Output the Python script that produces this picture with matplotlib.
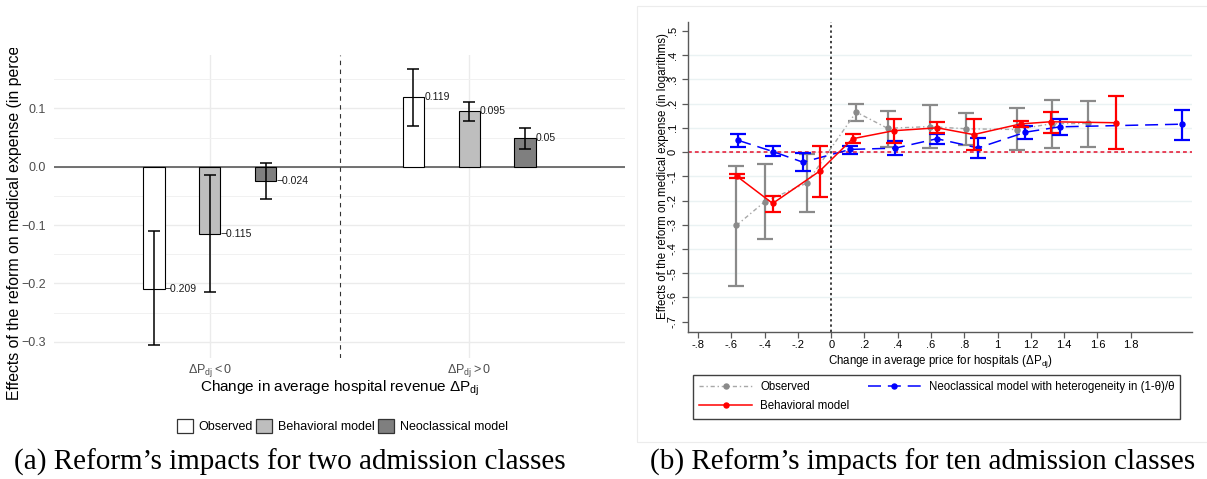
import matplotlib
matplotlib.use('Agg')
import matplotlib.pyplot as plt
import numpy as np
from matplotlib.patches import Patch, Rectangle
from matplotlib.lines import Line2D
from matplotlib.transforms import Bbox, TransformedBbox

plt.rcParams['font.family'] = ['Liberation Sans', 'DejaVu Sans']
plt.rcParams['mathtext.fontset'] = 'custom'
plt.rcParams['mathtext.rm'] = 'Liberation Sans'
plt.rcParams['mathtext.it'] = 'Liberation Sans:italic'
plt.rcParams['mathtext.bf'] = 'Liberation Sans:bold'

# ---- panel (a): two admission classes ----
class_labels = [r'$\Delta\mathrm{P}_{\mathrm{dj}} < 0$', r'$\Delta\mathrm{P}_{\mathrm{dj}} > 0$']
model_names = ['Observed', 'Behavioral model', 'Neoclassical model']
obs_effect = [-0.209, 0.119]
beh_effect = [-0.115, 0.095]
neo_effect = [-0.024, 0.05]
obs_ci_low = [-0.305, 0.069]
obs_ci_high = [-0.111, 0.167]
beh_ci_low = [-0.214, 0.078]
beh_ci_high = [-0.014, 0.111]
neo_ci_low = [-0.055, 0.031]
neo_ci_high = [0.007, 0.067]

# ---- panel (b): ten admission classes ----
obs_x = [-0.57, -0.40, -0.147, 0.15, 0.339, 0.591, 0.812, 1.115, 1.325, 1.544]
obs_y = [-0.303, -0.205, -0.128, 0.165, 0.098, 0.105, 0.096, 0.093, 0.117, 0.118]
obs_lo = [-0.552, -0.36, -0.246, 0.13, 0.022, 0.017, 0.03, 0.008, 0.016, 0.02]
obs_hi = [-0.056, -0.05, -0.006, 0.2, 0.171, 0.193, 0.16, 0.18, 0.215, 0.212]

beh_x = [-0.569, -0.352, -0.07, 0.129, 0.375, 0.638, 0.856, 1.138, 1.319, 1.71]
beh_y = [-0.099, -0.212, -0.079, 0.055, 0.088, 0.1, 0.072, 0.116, 0.125, 0.121]
beh_lo = [-0.108, -0.246, -0.186, 0.036, 0.036, 0.079, 0.009, 0.104, 0.08, 0.013]
beh_hi = [-0.092, -0.183, 0.024, 0.074, 0.138, 0.122, 0.136, 0.129, 0.167, 0.232]

neo_x = [-0.558, -0.35, -0.17, 0.115, 0.385, 0.635, 0.883, 1.168, 1.373, 2.106]
neo_y = [0.048, 0.002, -0.042, 0.011, 0.016, 0.055, 0.017, 0.082, 0.104, 0.115]
neo_lo = [0.022, -0.018, -0.08, -0.009, -0.013, 0.034, -0.023, 0.055, 0.071, 0.051]
neo_hi = [0.073, 0.023, -0.002, 0.023, 0.046, 0.076, 0.056, 0.109, 0.136, 0.175]

W, H = 1207, 479
fig = plt.figure(figsize=(W / 100, H / 100), dpi=100)
fig.patch.set_facecolor('white')


def fx(px):
    return px / W


def fy(py):
    return 1 - py / H


# ===================== left: bar chart =====================
axL = fig.add_axes([fx(54), fy(358), fx(571), 303 / H])
xpos = np.arange(1, 3)
offsets = [-0.215, 0.0, 0.215]
bar_w = 0.083
bar_colors = ['white', '#bebebe', '#7f7f7f']
effects = [obs_effect, beh_effect, neo_effect]
ci_lows = [obs_ci_low, beh_ci_low, neo_ci_low]
ci_highs = [obs_ci_high, beh_ci_high, neo_ci_high]

for off, col, vals, lo, hi in zip(offsets, bar_colors, effects, ci_lows, ci_highs):
    vals = np.array(vals)
    xs = xpos + off
    axL.bar(xs, vals, bar_w, color=col, edgecolor='black', linewidth=0.8, zorder=3)
    axL.errorbar(xs, vals, yerr=[vals - np.array(lo), np.array(hi) - vals], fmt='none',
                 ecolor='black', elinewidth=1.1, capsize=4.3, capthick=1.1, zorder=4)
    for x, v in zip(xs, vals):
        axL.text(x + bar_w / 2, v, f'{v:g}'.replace('-', '\u2212'), ha='left', va='center',
                 fontsize=7.5, color='#1a1a1a', zorder=5)

axL.set_xlim(0.4, 2.6)
axL.set_ylim(-0.328, 0.1915)
axL.set_yticks([-0.3, -0.2, -0.1, 0.0, 0.1])
axL.set_yticklabels(['\u22120.3', '\u22120.2', '\u22120.1', '0.0', '0.1'])
axL.set_yticks([-0.25, -0.15, -0.05, 0.05, 0.15], minor=True)
axL.set_xticks(xpos)
axL.set_xticklabels(class_labels)
axL.grid(which='major', color='#ebebeb', linewidth=1.0)
axL.grid(which='minor', axis='y', color='#f1f1f1', linewidth=0.7)
axL.set_axisbelow(True)
for s in axL.spines.values():
    s.set_visible(False)
axL.tick_params(which='both', length=0, labelsize=9, labelcolor='#4d4d4d')
axL.tick_params(axis='y', pad=6)
axL.tick_params(axis='x', pad=3)
axL.axhline(0, color='#4d4d4d', linewidth=1.1, zorder=2)
axL.axvline(1.5, color='#333333', linestyle=(0, (4, 4)), linewidth=0.8, zorder=2)

# y label runs past the top of the panel and is cut there
ylab = fig.text(fx(15), fy(400), 'Effects of the reform on medical expense (in percent)',
                rotation=90, ha='center', va='bottom', fontsize=11.4)
ylab.set_clip_box(TransformedBbox(Bbox.from_extents(0, 0, fx(630), fy(48)), fig.transFigure))
ylab.set_clip_on(True)
fig.text(fx(340), fy(388), r'Change in average hospital revenue $\Delta\mathrm{P}_{\mathrm{dj}}$',
         ha='center', va='center', fontsize=11)

bar_handles = [Patch(facecolor=c, edgecolor='#333333', linewidth=0.9) for c in bar_colors]
fig.legend(bar_handles, model_names, loc='center', bbox_to_anchor=(fx(342), fy(426)),
           ncol=3, frameon=False, fontsize=9, handlelength=1.3, handleheight=1.35,
           handletextpad=0.45, columnspacing=0.25, borderaxespad=0)

# ===================== right: line chart =====================
fig.add_artist(Rectangle((fx(637), fy(442)), fx(600), (442 - 6) / H, transform=fig.transFigure,
                         fill=False, edgecolor='#ececec', linewidth=0.8))

axR = fig.add_axes([fx(688), fy(331.7), fx(503.5), 310 / H])
axR.set_xlim(-0.861, 2.166)
axR.set_ylim(-0.7415, 0.538)

for g in np.arange(-6, 5) / 10:
    axR.axhline(g, color='#eaf2f3', linewidth=1.0, zorder=0)

axR.axvline(0, color='#404040', linestyle=(0, (1.2, 1.5)), linewidth=1.4, zorder=1)
axR.axhline(0, color='#e4102c', linestyle=(0, (2.5, 2)), linewidth=1.1, zorder=1)


def draw_series(ax, x, y, lo, hi, line_color, err_color, ls, lw, z):
    x, y, lo, hi = map(np.array, (x, y, lo, hi))
    ax.errorbar(x, y, yerr=[y - lo, hi - y], fmt='none', ecolor=err_color,
                elinewidth=1.6, capsize=5.5, capthick=1.6, zorder=z)
    line, = ax.plot(x, y, color=line_color, linestyle=ls, linewidth=lw, marker='o',
                    markersize=3.6, markerfacecolor=err_color, markeredgecolor=err_color, zorder=z + 0.5)
    return line


draw_series(axR, obs_x, obs_y, obs_lo, obs_hi, '#a8a8a8', '#8a8a8a', (0, (3, 2, 1, 2)), 1.0, 2)
draw_series(axR, neo_x, neo_y, neo_lo, neo_hi, '#0000ff', '#0000ff', (0, (8.5, 4.5)), 1.1, 3)
draw_series(axR, beh_x, beh_y, beh_lo, beh_hi, '#ff0000', '#ff0000', '-', 1.1, 4)


def stata_fmt(v):
    s = f'{v:.1f}'.rstrip('0').rstrip('.')
    if s in ('-0', ''):
        return '0'
    if s.startswith('0.'):
        s = s[1:]
    elif s.startswith('-0.'):
        s = '-' + s[2:]
    return s


xt = np.round(np.arange(-0.8, 1.81, 0.2), 1)
yt = np.round(np.arange(-0.7, 0.51, 0.1), 1)
axR.set_xticks(xt)
axR.set_xticklabels([stata_fmt(v) for v in xt])
axR.set_yticks(yt)
axR.set_yticklabels([stata_fmt(v) for v in yt], rotation=90, va='center')
for side in ('top', 'right'):
    axR.spines[side].set_visible(False)
for side in ('left', 'bottom'):
    axR.spines[side].set_color('#595959')
    axR.spines[side].set_linewidth(1.0)
axR.tick_params(direction='out', length=4.3, width=0.9, color='#595959', labelsize=8, pad=2)
axR.tick_params(axis='y', pad=3)

fig.text(fx(663), fy(176), 'Effects of the reform on medical expense (in logarithms)',
         rotation=90, ha='center', va='center', fontsize=8.3)
fig.text(fx(940), fy(361), r'Change in average price for hospitals ($\Delta\mathrm{P}_{\mathrm{dj}}$)',
         ha='center', va='center', fontsize=8.3)

leg_handles = [Line2D([], [], color='#a8a8a8', linestyle=(0, (3, 2, 1, 2)), linewidth=1.0,
                      marker='o', markersize=3.6, markerfacecolor='#8a8a8a', markeredgecolor='#8a8a8a'),
               Line2D([], [], color='#ff0000', linewidth=1.1, marker='o', markersize=3.6),
               Line2D([], [], color='#0000ff', linestyle=(0, (8.5, 4.5)), linewidth=1.1,
                      marker='o', markersize=3.6)]
leg_labels = ['Observed', 'Behavioral model', 'Neoclassical model with heterogeneity in (1-\u03b8)/\u03b8']
legR = fig.legend(leg_handles, leg_labels, loc='upper left', bbox_to_anchor=(fx(693), fy(375)),
                  ncol=2, fontsize=8.3, frameon=True, fancybox=False, framealpha=1,
                  edgecolor='#404040', borderpad=0.55, handlelength=4.6, handletextpad=0.7,
                  columnspacing=1.55, labelspacing=0.6, numpoints=1, borderaxespad=0)
legR.get_frame().set_linewidth(1.0)

# ---- captions ----
fig.text(fx(290), fy(470), '(a) Reform\u2019s impacts for two admission classes',
         family='Liberation Serif', fontsize=21, ha='center', va='baseline')
fig.text(fx(923), fy(470), '(b) Reform\u2019s impacts for ten admission classes',
         family='Liberation Serif', fontsize=21, ha='center', va='baseline')

fig.savefig('out.png', dpi=100)
